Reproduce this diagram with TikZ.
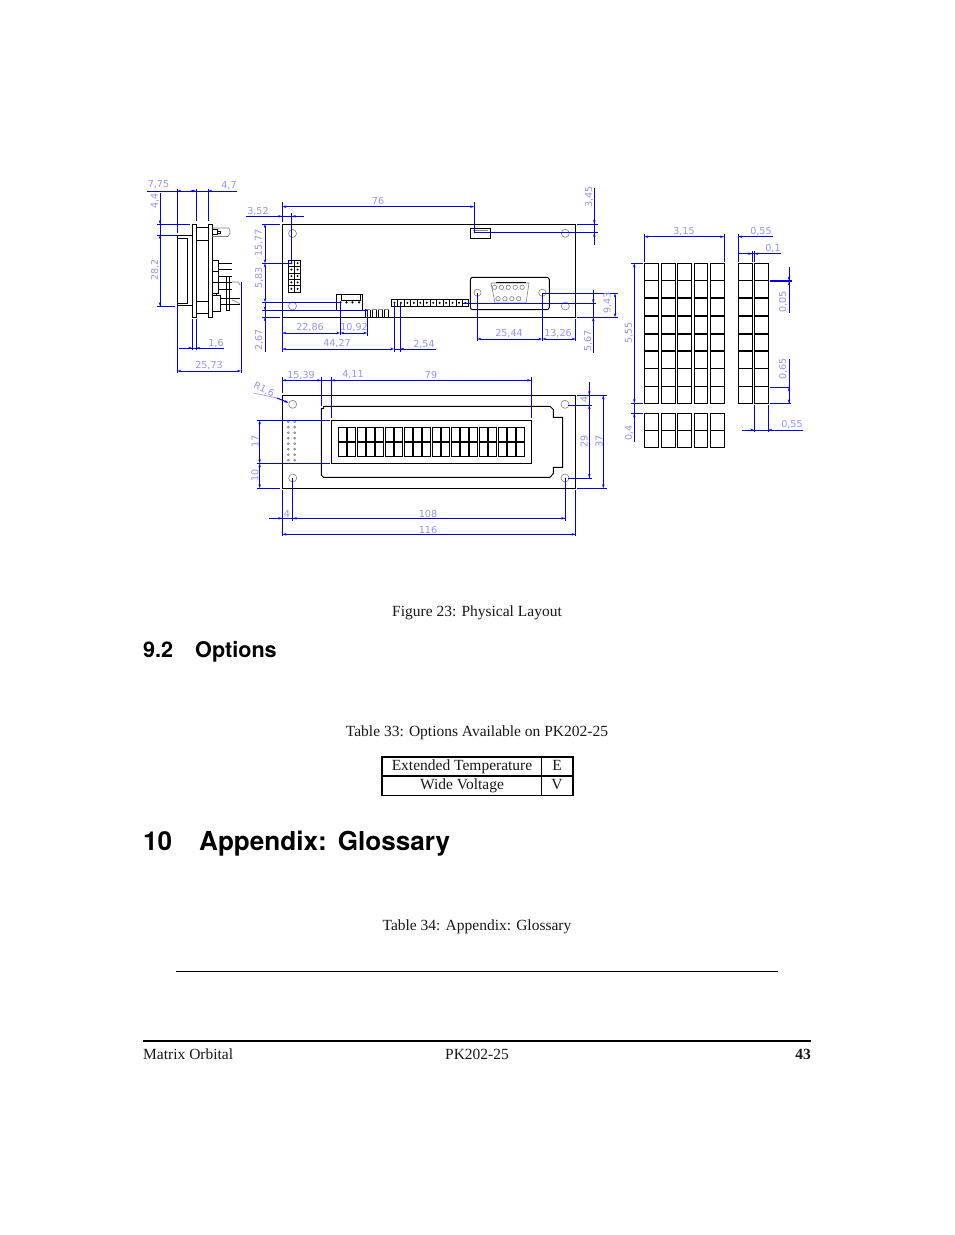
\documentclass[tikz,border=0pt]{standalone}
\usepackage{fontspec}
\setmainfont{Liberation Serif}
\setsansfont{TeX Gyre Heros}
\newfontfamily\dimfont{DejaVu Sans}
\usetikzlibrary{arrows.meta}
\definecolor{dimblue}{RGB}{0,0,225}
\definecolor{dimtxt}{RGB}{150,150,235}
\definecolor{holegray}{RGB}{130,130,130}
\tikzset{
 x=1pt,y=-1pt,
 dimline/.style={draw=dimblue,line width=1pt},
 arr/.style={dimline,{Stealth[length=4pt,width=2.4pt]}-{Stealth[length=4pt,width=2.4pt]}},
 arrs/.style={dimline,{Stealth[length=4pt,width=2.4pt]}-},
 arre/.style={dimline,-{Stealth[length=4pt,width=2.4pt]}},
 dimtext/.style={text=dimtxt,font=\dimfont\fontsize{9.6}{10}\selectfont,inner sep=0pt},
 dimrot/.style={dimtext,rotate=90},
 part/.style={draw=black,line width=0.95pt},
 thin part/.style={draw=black,line width=0.6pt},
 hole/.style={draw=holegray,line width=0.6pt},
 body/.style={font=\fontsize{15.5}{17}\selectfont,inner sep=0pt,text=black!90},
 cell/.style={draw=black,line width=0.95pt},
 thickrow/.style={draw=black,line width=1.5pt},
 head/.style={font=\sffamily\bfseries\fontsize{21.6}{24}\selectfont,inner sep=0pt,anchor=base west},
 bighead/.style={font=\sffamily\bfseries\fontsize{26.1}{28}\selectfont,inner sep=0pt,anchor=base west},
}
\begin{document}
\begin{tikzpicture}
\useasboundingbox (0,0) rectangle (954,1235);
\fill[white] (0,0) rectangle (954,1235);
% ---------- side view
\draw[part] (192.3,224) rectangle (196.3,317.3);
\draw[part] (208.3,224) rectangle (212.3,317.3);
\draw[part] (196.3,227.7) -- (208.3,227.7) (196.3,240) -- (208.3,240) (196.3,301) -- (208.3,301) (196.3,313) -- (208.3,313);
\draw[line width=1.5pt] (177.3,235.3) -- (192.3,235.3) (177.3,305.7) -- (192.3,305.7);
\draw[thin part] (177.3,238) -- (187.7,238) -- (187.7,303) -- (177.3,303) (177.3,235) -- (177.3,306);
\draw[hole] (212.3,228) -- (229,228) -- (230,231) -- (230,233) -- (228,236.5) -- (212.3,236.5);
\draw[thin part] (212.3,229) -- (217,229) -- (217,234.5) -- (212.3,234.5) (217,231) -- (220,231) -- (220,233.5) -- (217,233.5);
\draw[thin part] (212.3,260.3) rectangle (218.3,293);
\draw[thin part] (212.3,271) -- (218.3,271) (212.3,282) -- (218.3,282);
\draw[line width=1pt] (218.3,263.7) -- (232,263.7) (218.3,282.7) -- (232,282.7);
\draw[thin part] (218.3,269.3) -- (232,269.3) (218.3,276) -- (232,276) (218.3,289.3) -- (232,289.3);
\draw[thin part] (226,276.7) -- (226,310) -- (229,310) -- (229,276.7);
\draw[thin part] (212.3,295.7) rectangle (220.3,311);
\draw[thin part] (212.3,293) -- (212.3,296) (216,293) -- (216,296);
\draw[thin part] (220.3,298.3) -- (240,298.3) (220.3,304.3) -- (240,304.3);
\draw[hole] (232,282) -- (238,282) -- (240,285) (232,300) .. controls (236,301) and (238,303) .. (240,304);
% side view dimensions
\draw[dimline] (147,191) -- (237,191);
\draw[arrs] (177.3,191) -- (190,191);
\draw[arr] (196,191) -- (190,191);
\draw[arrs] (208.3,191) -- (222,191);
\draw[dimline] (177.3,189) -- (177.3,233) (196,189) -- (196,221) (208.3,189) -- (208.3,221);
\draw[dimline] (157,224) -- (190,224) (157,235) -- (177,235) (157,306) -- (175,306);
\draw[dimline] (160,193) -- (160,306);
\draw[arre] (160,214) -- (160,224);
\draw[arr] (160,235) -- (160,306);
\draw[dimline] (179,348) -- (224,348) (192.3,319) -- (192.3,350) (196.3,319) -- (196.3,350) (177.3,306) -- (177.3,373) (241,282) -- (241,373);
\draw[arre] (182,348) -- (192.3,348);
\draw[arrs] (196.3,348) -- (206,348);
\draw[arr] (177.3,371) -- (241,371);
\node[dimtext] (t775) at (158.5,185) {7,75};
\node[dimtext] (t47) at (229,185.5) {4,7};
\node[dimrot] (t44) at (155,201) {4,4};
\node[dimrot] (t282) at (155,270) {28,2};
\node[dimtext] (t16) at (216,343) {1,6};
\node[dimtext] (t2573) at (209,365) {25,73};
% ---------- top view board
\draw[part] (282.3,224) rectangle (575.7,317.3);
\foreach \x/\y in {292.5/233.5,292.5/306,565.3/233.3,565.3/306} \draw[hole] (\x,\y) circle[radius=4];
% 2x5 header
\draw[part] (288.3,260) rectangle (300.7,292.3);
\draw[thin part] (294.5,260) -- (294.5,292.3);
\foreach \y in {266.3,272.8,279.2,285.6} \draw[thin part] (288.3,\y) -- (300.7,\y);
\foreach \y in {263.2,269.6,276,282.4,288.8} \foreach \x in {291.4,297.6} \fill (\x,\y) circle[radius=1.1];
% small connector
\draw[part] (336.3,294.3) rectangle (362.7,310);
\draw[thin part] (341,294.3) -- (341,300) -- (360,300) -- (360,294.3);
\foreach \x in {340.5,346.5,352.5,359} \fill (\x,302.3) circle[radius=1.2];
% little parts
\foreach \x in {365.5,372,378,384} {
  \draw[thin part] (\x,317.3) -- (\x,309.5) (\x+4.5,317.3) -- (\x+4.5,309.5);
  \draw[hole] (\x,309.5) -- (\x+4.5,309.5);
}
\draw[line width=1.2pt] (365.5,309) -- (365.5,317.3);
% 1x12 header
\draw[part] (391.3,299.3) rectangle (468.7,306.3);
\foreach \i in {1,...,11} \draw[thin part] ({391.3+\i*6.45},299.3) -- ({391.3+\i*6.45},306.3);
\foreach \i in {0,...,11} \fill ({394.5+\i*6.45},302.8) circle[radius=1.1];
% top connector
\draw[part] (470.3,228.3) rectangle (490.3,238.3);
\draw[hole] (473,230.5) -- (488,230.5);
% DB9
\draw[part,rounded corners=2.5pt] (470.3,277.3) rectangle (549.3,309.7);
\foreach \x in {477.5,542.3} \draw[hole] (\x,292.7) circle[radius=3.6];
\draw[hole] (491,283) -- (529,283) -- (526,303) -- (495,303) -- cycle;
\draw[line width=1pt] (496,282.5) -- (526,282.5) (496,303.6) -- (523,303.6);
\foreach \i in {0,...,4} \draw[hole] ({494.5+\i*6.9},287.3) circle[radius=2.2];
\foreach \i in {0,...,3} \draw[hole] ({498+\i*6.9},298.7) circle[radius=2.2];
% top view dimensions
\draw[arr] (282.3,206.7) -- (474.3,206.7);
\draw[dimline] (282.3,202) -- (282.3,222) (474.3,202) -- (474.3,232.7);
\draw[dimline] (246,216.3) -- (304,216.3) (291.7,213) -- (291.7,263.3);
\draw[arre] (272,216.3) -- (282.3,216.3);
\draw[arrs] (291.7,216.3) -- (300,216.3);
\draw[dimline] (262,224) -- (280,224) (262,263.3) -- (291.7,263.3) (262,302.3) -- (340.3,302.3) (262,310.3) -- (367.3,310.3) (262,317.3) -- (280,317.3);
\draw[arr] (265,224) -- (265,263.3);
\draw[arr] (265,302.3) -- (265,263.3);
\draw[dimline] (265,302.3) -- (265,351.7);
\draw[arrs] (265,317.3) -- (265,330);
\draw[arrs] (265,310.3) -- (265,304);
\draw[arr] (282.3,333) -- (340.3,333);
\draw[arr] (340.3,333) -- (367.3,333);
\draw[dimline] (340.3,302.3) -- (340.3,335) (367.3,310.3) -- (367.3,336) (282.3,317.3) -- (282.3,352);
\draw[arr] (282.3,349) -- (394.3,349);
\draw[dimline] (394.3,303) -- (394.3,352) (400.3,303) -- (400.3,352);
\draw[dimline] (394.3,349) -- (436,349);
\draw[arrs] (400.3,349) -- (410,349);
\draw[arr] (477.3,339) -- (542.3,339);
\draw[arr] (542.3,339) -- (575.7,339);
\draw[dimline] (477.3,293) -- (477.3,341) (542.3,293) -- (542.3,341) (575.7,319) -- (575.7,341);
\draw[dimline] (577,224) -- (598,224) (474.3,232.7) -- (598,232.7);
\draw[dimline] (594.3,188) -- (594.3,244.7);
\draw[arre] (594.3,214) -- (594.3,224);
\draw[arrs] (594.3,232.7) -- (594.3,242);
\draw[dimline] (542.3,293.3) -- (618,293.3) (463,303.3) -- (596,303.3) (577,317.3) -- (618,317.3);
\draw[dimline] (593.3,290) -- (593.3,352.7);
\draw[arre] (593.3,295) -- (593.3,303.3);
\draw[arrs] (593.3,317.3) -- (593.3,327);
\draw[arr] (615,293.3) -- (615,317.3);
\node[dimtext] (t76) at (378,201) {76};
\node[dimtext] (t352) at (258,211) {3,52};
\node[dimrot] (t1577) at (259,243) {15,77};
\node[dimrot] (t583) at (259,278) {5,83};
\node[dimrot] (t267) at (259,340) {2,67};
\node[dimtext] (t2286) at (310,327) {22,86};
\node[dimtext] (t1092) at (354,327) {10,92};
\node[dimtext] (t4427) at (337,343) {44,27};
\node[dimtext] (t254) at (424,344) {2,54};
\node[dimtext] (t2544) at (509,333) {25,44};
\node[dimtext] (t1326) at (558,333) {13,26};
\node[dimrot] (t345) at (589,197) {3,45};
\node[dimrot] (t943) at (607.5,303) {9,43};
\node[dimrot] (t567) at (588,341) {5,67};
% ---------- front view
\draw[part] (282.3,395.3) rectangle (575.7,488.3);
\foreach \x/\y in {292.7/404.3,292.7/478,565/404.3,565/478} \draw[hole] (\x,\y) circle[radius=4];
\draw[part] (321.3,475) -- (321.3,408.7) -- (323.7,408.7) -- (323.7,406.3) -- (550,406.3) -- (553.3,409.5) -- (553.3,417.3) -- (562.7,417.3) -- (562.7,467.3) -- (553.3,467.3) -- (553.3,473.5) -- (550,477.3) -- (323.5,477.3) -- cycle;
\draw[part] (331.3,420.3) rectangle (531.3,463.3);
\foreach \i in {0,...,19} {
  \draw[cell] ({338.3+\i*9.4},427.3) rectangle ({346.3+\i*9.4},441.8);
  \draw[cell] ({338.3+\i*9.4},441.8) rectangle ({346.3+\i*9.4},456.3);
  \draw[thickrow] ({338.3+\i*9.4},441.8) -- ({346.3+\i*9.4},441.8);
}
\foreach \y in {421.7,427.2,432.7,438.2,443.7,449.2,454.7,460.2} \foreach \x in {288.3,294.7} \draw[holegray,line width=0.6pt] (\x-1,\y) -- (\x,\y-1) -- (\x+1,\y) -- (\x,\y+1) -- cycle;
% front dimensions
\draw[dimline] (282.3,380.3) -- (531.3,380.3);
\draw[arrs] (282.3,380.3) -- (295,380.3);
\draw[arre] (310,380.3) -- (321.3,380.3);
\draw[arrs] (331.3,380.3) -- (342,380.3);
\draw[arre] (520,380.3) -- (531.3,380.3);
\draw[dimline] (282.3,377) -- (282.3,393) (321.3,377) -- (321.3,406) (331.3,377) -- (331.3,418) (531.3,377) -- (531.3,418);
\draw[dimline] (257,420.3) -- (330,420.3) (257,463.3) -- (330,463.3) (257,488.3) -- (280,488.3);
\draw[arr] (259.7,420.3) -- (259.7,463.3);
\draw[arr] (259.7,463.3) -- (259.7,488.3);
\draw[draw=dimtxt,line width=0.6pt] (253.3,393) -- (277,398);
\draw[arre] (277,398) -- (288.5,402.7);
\draw[dimline] (269,518.3) -- (565.3,518.3);
\draw[arre] (275,518.3) -- (282.3,518.3);
\draw[arr] (292.7,518.3) -- (565.3,518.3);
\draw[dimline] (292.7,478) -- (292.7,520.5) (565.3,478) -- (565.3,520.5) (282.3,490) -- (282.3,536) (575.7,490) -- (575.7,536);
\draw[arr] (282.3,534.3) -- (575.7,534.3);
\draw[dimline] (589.3,382) -- (589.3,478) (568,405) -- (592,405) (568,478) -- (592,478);
\draw[arre] (589.3,387) -- (589.3,395.3);
\draw[arr] (589.3,405) -- (589.3,478);
\draw[dimline] (577,395.3) -- (607,395.3) (577,488.3) -- (607,488.3);
\draw[arr] (603.3,395.3) -- (603.3,488.3);
\node[dimtext] (t1539) at (301,375) {15,39};
\node[dimtext] (t411) at (353,375) {4,11};
\node[dimtext] (t79) at (431,375) {79};
\node[dimtext,rotate=-27] (tr16) at (264,390) {R1,6};
\node[dimrot] (t17) at (255,441) {17};
\node[dimrot] (t10) at (255,475) {10};
\node[dimtext] (tf4) at (287,513.5) {4};
\node[dimtext] (t108) at (428,513.5) {108};
\node[dimtext] (t116) at (428,529.5) {116};
\node[dimrot] (tr4) at (584,399) {4};
\node[dimrot] (t29) at (584,441) {29};
\node[dimrot] (t37) at (599,441) {37};
% ---------- keypad grid
\foreach \a/\b in {644.3/658.3,661.3/675.3,677.3/691.3,694.3/707.7,710.3/724.3,738.3/752.3,754.3/768.3}
  \foreach \c/\d in {263.3/280.7,280.7/298,298/316,316/334,334/351,351/368.7,368.7/386.7,386.7/403.3} {
    \draw[cell] (\a,\c) rectangle (\b,\d);
    \draw[thickrow] (\a,\d) -- (\b,\d);
  }
\foreach \a/\b in {644.3/658.3,661.3/675.3,677.3/691.3,694.3/707.7,710.3/724.3,738.3/752.3,754.3/768.3}
  \draw[cell] (\a,403.3) -- (\b,403.3);
\foreach \a/\b in {644.3/658.3,661.3/675.3,677.3/691.3,694.3/707.7,710.3/724.3} {
  \draw[cell] (\a,413.3) rectangle (\b,430.7);
  \draw[cell] (\a,430.7) rectangle (\b,447.3);
  \draw[thickrow] (\a,430.7) -- (\b,430.7);
}
\draw[arr] (644.3,236.7) -- (724.3,236.7);
\draw[dimline] (738.3,236.7) -- (772.7,236.7);
\draw[arrs] (738.3,236.7) -- (745,236.7);
\draw[dimline] (644.3,234) -- (644.3,262) (724.3,234) -- (724.3,262) (738.3,234) -- (738.3,262) (752.3,251) -- (752.3,262) (754.3,251) -- (754.3,262);
\draw[dimline] (738.3,253.7) -- (780.7,253.7);
\draw[arrs] (754.3,253.7) -- (762,253.7);
\draw[arre] (744,253.7) -- (752.3,253.7);
\draw[dimline] (631,263.3) -- (643,263.3) (631,403.3) -- (643,403.3) (631,413.3) -- (643,413.3);
\draw[arr] (634.3,263.3) -- (634.3,403.3);
\draw[dimline] (634.3,403.3) -- (634.3,441.7);
\draw[arrs] (634.3,413.3) -- (634.3,420);
\draw[dimline] (789,267) -- (789,313) (789,359.3) -- (789,403.3) (770,387.3) -- (790,387.3) (770,403.3) -- (791,403.3);
\draw[dimblue,line width=1.4pt] (770,281) -- (792,281);
\draw[arre] (789,272) -- (789,280.5);
\draw[arrs] (789,281.5) -- (789,290);
\draw[arr] (789,387.3) -- (789,403.3);
\draw[dimline] (754.3,405) -- (754.3,432) (768.3,405) -- (768.3,432) (742,430) -- (803,430);
\draw[arre] (746,430) -- (754.3,430);
\draw[arrs] (768.3,430) -- (776,430);
\node[dimtext] (t315) at (684,231) {3,15};
\node[dimtext] (t055a) at (761,231) {0,55};
\node[dimtext] (t01) at (773,248) {0,1};
\node[dimrot] (t555) at (629,333) {5,55};
\node[dimrot] (t04) at (629,433) {0,4};
\node[dimrot] (t005) at (783,302) {0,05};
\node[dimrot] (t065) at (783,369) {0,65};
\node[dimtext] (t055b) at (792,424) {0,55};
% ---------- page text
\node[body,anchor=base] (cap) at (477,616) {Figure 23: Physical Layout};
\node[head] (s92) at (143,657) {9.2};
\node[head] (sopt) at (195,657) {Options};
\node[body,anchor=base] (cap33) at (477,736) {Table 33: Options Available on PK202-25};
\draw[line width=1.2pt] (382,757) rectangle (573,795.5);
\draw[line width=1.2pt] (382,776) -- (573,776) (541.5,757) -- (541.5,795.5);
\node[body,anchor=base] (te1) at (462,770) {Extended Temperature};
\node[body,anchor=base] (te2) at (557,770) {E};
\node[body,anchor=base] (tv1) at (462,789) {Wide Voltage};
\node[body,anchor=base] (tv2) at (557,789) {V};
\node[bighead] (s10) at (143,850) {10};
\node[bighead] (sapp) at (199,850) {Appendix:\hspace{0.05em} Glossary};
\node[body,anchor=base] (cap34) at (477,930) {Table 34: Appendix: Glossary};
\draw[line width=0.8pt] (176,971.3) -- (778,971.3);
\draw[line width=1.2pt] (143,1041) -- (811,1041);
\node[body,anchor=base west] (fl) at (143,1059) {Matrix Orbital};
\node[body,anchor=base] (fc) at (477,1059) {PK202-25};
\node[body,anchor=base east,font=\bfseries\fontsize{15.5}{17}\selectfont] (fr) at (811,1059) {43};
\end{tikzpicture}
\end{document}
